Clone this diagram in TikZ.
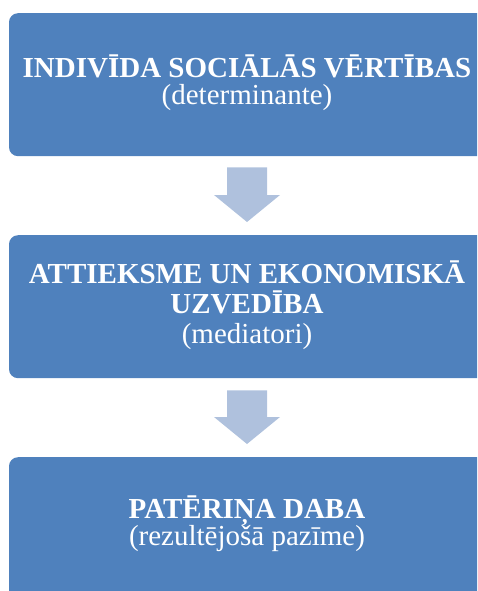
\documentclass[tikz,border=0pt]{standalone}
\usepackage{fontspec}
\setmainfont{Liberation Serif}
\usetikzlibrary{calc}
\definecolor{boxblue}{HTML}{4F81BD}
\definecolor{arrowblue}{HTML}{AFC1DD}
\tikzset{
  x=1pt,y=1pt,
  stagebox/.style={fill=boxblue,draw=none,rounded corners=9pt,minimum width=477pt,minimum height=143pt,inner sep=0pt,anchor=north},
  headline/.style={text=white,font=\fontsize{29}{30}\selectfont\bfseries,anchor=base,inner sep=0pt},
  subline/.style={text=white,font=\fontsize{29}{30}\selectfont,anchor=base,inner sep=0pt},
  blockarrow/.style={fill=arrowblue,draw=none}
}
\begin{document}
\begin{tikzpicture}
\useasboundingbox (0,0) rectangle (477,-591);
\begin{scope}
\clip (0,0) rectangle (477,-591);
\node[stagebox] (box1) at (247.5,-13) {};
\node[stagebox] (box2) at (247.5,-235) {};
\node[stagebox] (box3) at (247.5,-457) {};
\end{scope}
\node[headline] (t1a) at (247,-78) {INDIV^^^^012aDA SOCI^^^^0100L^^^^0100S V^^^^0112RT^^^^012aBAS};
\node[subline] (t1b) at (247,-105) {(determinante)};
\node[headline] (t2a) at (247,-283) {ATTIEKSME UN EKONOMISK^^^^0100};
\node[headline] (t2b) at (247,-313) {UZVED^^^^012aBA};
\node[subline] (t2c) at (247,-343) {(mediatori)};
\node[headline] (t3a) at (247,-518) {PAT^^^^0112RI^^^^0145A DABA};
\node[subline] (t3b) at (247,-545) {(rezult^^^^0113jo^^^^0161^^^^0101 paz^^^^012bme)};
% arrows
\coordinate (a1s) at ($(box1.south)+(-0.5,-11)$);
\coordinate (a1e) at ($(box2.north)+(-0.5,13)$);
\fill[blockarrow] ($(a1s)+(-20,0)$) -- ($(a1s)+(20,0)$) -- ($(a1e)+(20,27)$) -- ($(a1e)+(33,27)$) -- (a1e) -- ($(a1e)+(-33,27)$) -- ($(a1e)+(-20,27)$) -- cycle;
\coordinate (a2s) at ($(box2.south)+(-0.5,-12)$);
\coordinate (a2e) at ($(box3.north)+(-0.5,13)$);
\fill[blockarrow] ($(a2s)+(-20,0)$) -- ($(a2s)+(20,0)$) -- ($(a2e)+(20,27)$) -- ($(a2e)+(33,27)$) -- (a2e) -- ($(a2e)+(-33,27)$) -- ($(a2e)+(-20,27)$) -- cycle;
\end{tikzpicture}
\end{document}
